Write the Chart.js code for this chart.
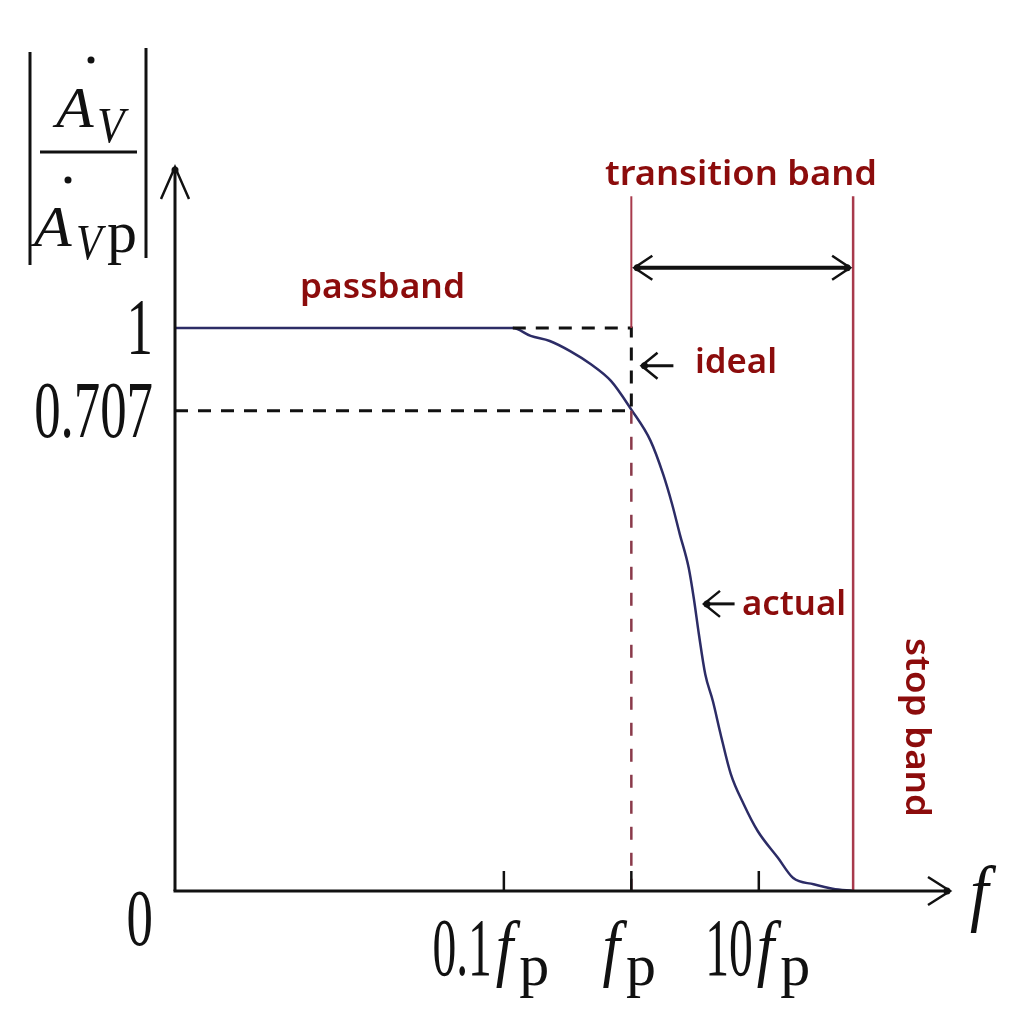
<!DOCTYPE html>
<html>
<head>
<meta charset="utf-8">
<title>Low-pass filter response</title>
<script src="https://cdn.jsdelivr.net/npm/chart.js@4.4.0/dist/chart.umd.min.js"></script>
<style>
  html, body { margin: 0; padding: 0; background: #fff; }
  #wrap { width: 1024px; height: 1024px; }
</style>
</head>
<body>
<div id="wrap"><canvas id="filterChart" width="1024" height="1024"></canvas></div>
<script>
// x = decades relative to fp (log10(f / fp)), y = |Av / Avp| as drawn in the sketch
const curveX = [-3.58, -0.93, -0.79, -0.64, -0.48, -0.32, -0.16, 0.0, 0.15, 0.25, 0.32, 0.38, 0.45, 0.49,
  0.53, 0.58, 0.64, 0.70, 0.78, 0.88, 0.99, 1.15, 1.27, 1.43, 1.58, 1.74];
const curveY = [1.0, 1.0, 0.986, 0.977, 0.959, 0.936, 0.906, 0.855, 0.80, 0.74, 0.687, 0.634, 0.574, 0.52,
  0.456, 0.385, 0.337, 0.279, 0.208, 0.155, 0.107, 0.059, 0.023, 0.012, 0.004, 0.0];

const xTickValues = [-1, 0, 1];
const xTickLabels = [
  [{ t: '0.1' }, { t: 'f', it: true }, { t: 'p', sub: true }],
  [{ t: 'f', it: true }, { t: 'p', sub: true }],
  [{ t: '10' }, { t: 'f', it: true }, { t: 'p', sub: true }]
];
const yTickValues = [0, 0.853, 1];
const yTickLabels = ['0', '0.707', '1'];

const xMin = -3.58, xMax = 2.5;
const yMin = 0, yMax = 1.286;
const cutoffX = 0;          // fp
const stopX = 1.74;         // start of stop band
const idealStartX = -0.93;  // where the ideal (dashed) line leaves the curve
const halfPowerY = 0.853;   // drawn height of the 0.707 level
const bandTopY = 1.234;     // top of the red band lines

const RED_TEXT = '#8c0c0c';
const RED_LINE = '#a83a4c';
const CURVE = '#2c2c66';
const SERIF = '"Liberation Serif", "DejaVu Serif", serif';
const SANS = '"Noto Sans", "Open Sans", sans-serif';

function pts(xs, ys) {
  return xs.map((x, i) => ({ x: x, y: ys[i] }));
}

// draw text squeezed/stretched horizontally to a target width
function fitText(ctx, text, x, y, width) {
  const w = ctx.measureText(text).width;
  ctx.save();
  ctx.translate(x, y);
  ctx.scale(width / w, 1);
  ctx.fillText(text, 0, 0);
  ctx.restore();
}

// math-like labels: condensed upright digits, italic f, lowered p
function runStyle(r) {
  if (r.it) return { font: 'italic 74px ' + SERIF, sx: 0.85, dy: -3, adv: 6 };
  if (r.sub) return { font: '60px ' + SERIF, sx: 1, dy: 10, adv: 0 };
  return { font: '82px ' + SERIF, sx: 0.58, dy: 0, adv: 4 };
}
function drawRuns(ctx, runs, cx, baseline) {
  ctx.save();
  ctx.textBaseline = 'alphabetic';
  ctx.textAlign = 'left';
  let w = 0;
  runs.forEach(r => {
    const s = runStyle(r);
    ctx.font = s.font;
    w += ctx.measureText(r.t).width * s.sx + s.adv;
  });
  let x = cx - w / 2;
  runs.forEach(r => {
    const s = runStyle(r);
    ctx.font = s.font;
    ctx.save();
    ctx.translate(x, baseline + s.dy);
    ctx.scale(s.sx, 1);
    ctx.fillText(r.t, 0, 0);
    ctx.restore();
    x += ctx.measureText(r.t).width * s.sx + s.adv;
  });
  ctx.restore();
}

function line(ctx, x1, y1, x2, y2) {
  ctx.beginPath();
  ctx.moveTo(x1, y1);
  ctx.lineTo(x2, y2);
  ctx.stroke();
}
// open arrowhead with a small blob at the tip
function arrowHead(ctx, tx, ty, dx, dy, len, half) {
  const px = -dy, py = dx;
  ctx.beginPath();
  ctx.moveTo(tx - dx * len + px * half, ty - dy * len + py * half);
  ctx.lineTo(tx, ty);
  ctx.lineTo(tx - dx * len - px * half, ty - dy * len - py * half);
  ctx.stroke();
  ctx.beginPath();
  ctx.arc(tx - dx * 3, ty - dy * 3, 3.5, 0, Math.PI * 2);
  ctx.fill();
}

function glyph(ctx, font, text, x, y, sx) {
  ctx.font = font;
  ctx.save();
  ctx.translate(x, y);
  ctx.scale(sx, 1);
  ctx.fillText(text, 0, 0);
  ctx.restore();
}

const sketchPlugin = {
  id: 'sketch',
  afterDatasetsDraw(chart) {
    const ctx = chart.ctx;
    const xs = chart.scales.x, ys = chart.scales.y;
    const area = chart.chartArea;
    const X = v => xs.getPixelForValue(v);
    const Y = v => ys.getPixelForValue(v);
    const x0 = X(xMin), y0 = Y(0);

    ctx.save();
    ctx.strokeStyle = '#111';
    ctx.fillStyle = '#111';
    ctx.lineCap = 'butt';

    // axes with arrows
    ctx.lineWidth = 3;
    line(ctx, x0, y0, x0, area.top + 2);
    line(ctx, x0 - 1.5, y0, area.right - 2, y0);
    ctx.lineWidth = 2.5;
    arrowHead(ctx, x0, area.top, 0, -1, 32, 14);
    arrowHead(ctx, area.right, y0, 1, 0, 22, 14);

    // x tick marks (inside) and labels
    ctx.lineWidth = 2.5;
    xTickValues.forEach((v, i) => {
      const px = X(v);
      line(ctx, px, y0, px, y0 - 20);
    });
    drawRuns(ctx, xTickLabels[0], X(-1) - 13, y0 + 84);
    drawRuns(ctx, xTickLabels[1], X(0) - 2, y0 + 84);
    drawRuns(ctx, xTickLabels[2], X(1) - 1, y0 + 84);
    // "f" axis label
    glyph(ctx, 'italic 74px ' + SERIF, 'f', area.right + 20, y0 + 26, 0.9);

    // y tick labels
    ctx.font = '80px ' + SERIF;
    ctx.textBaseline = 'middle';
    yTickValues.forEach((v, i) => {
      const py = v === 0 ? y0 + 33 : Y(v) + 5;
      const w = ctx.measureText(yTickLabels[i]).width * 0.66;
      ctx.save();
      ctx.translate(153 - w, py);
      ctx.scale(0.66, 1);
      ctx.fillText(yTickLabels[i], 0, 0);
      ctx.restore();
    });

    // |Av / Avp| label
    ctx.lineWidth = 3;
    line(ctx, 30, 52, 30, 265);
    line(ctx, 146, 48, 146, 258);
    line(ctx, 40, 152, 137, 152);
    ctx.textBaseline = 'alphabetic';
    const it = 'italic 56px ' + SERIF;
    const itV = 'italic 50px ' + SERIF;
    glyph(ctx, it, 'A', 56, 127, 1.1);
    glyph(ctx, itV, 'V', 97, 142, 0.9);
    glyph(ctx, it, 'A', 34, 246, 1.1);
    glyph(ctx, itV, 'V', 76, 259, 0.85);
    glyph(ctx, '60px ' + SERIF, 'p', 107, 252, 1.0);
    ctx.beginPath(); ctx.arc(91, 60, 3.5, 0, Math.PI * 2); ctx.fill();
    ctx.beginPath(); ctx.arc(68, 180, 3.5, 0, Math.PI * 2); ctx.fill();

    // transition band double arrow
    const ay = Y(1.107);
    ctx.lineWidth = 4;
    line(ctx, X(cutoffX) + 4, ay, X(stopX) - 4, ay);
    ctx.lineWidth = 2.5;
    arrowHead(ctx, X(cutoffX) + 3, ay, -1, 0, 18, 12);
    arrowHead(ctx, X(stopX) - 3, ay, 1, 0, 18, 12);

    // pointer arrows for "ideal" and "actual"
    ctx.lineWidth = 3;
    line(ctx, X(0.08), Y(0.933), X(0.33), Y(0.933));
    ctx.lineWidth = 2.5;
    arrowHead(ctx, X(0.08), Y(0.933), -1, 0, 16, 13);
    ctx.lineWidth = 3;
    line(ctx, X(0.57), Y(0.51), X(0.81), Y(0.51));
    ctx.lineWidth = 2.5;
    arrowHead(ctx, X(0.57), Y(0.51), -1, 0, 16, 13);

    // red annotations
    ctx.fillStyle = RED_TEXT;
    ctx.textAlign = 'left';
    ctx.textBaseline = 'alphabetic';
    ctx.font = '600 34px ' + SANS;
    fitText(ctx, 'transition band', 605, 185, 272);
    fitText(ctx, 'passband', 300, 298, 165);
    fitText(ctx, 'ideal', 695, 373, 82);
    fitText(ctx, 'actual', 742, 615, 104);
    ctx.save();
    ctx.translate(906, 638);
    ctx.rotate(Math.PI / 2);
    fitText(ctx, 'stop band', 0, 0, 179);
    ctx.restore();

    ctx.restore();
  }
};

const ctx = document.getElementById('filterChart');

new Chart(ctx, {
  type: 'scatter',
  data: {
    datasets: [
      {
        label: 'fp upper',
        data: [{ x: cutoffX, y: 1 }, { x: cutoffX, y: bandTopY }],
        showLine: true, borderColor: RED_LINE, borderWidth: 2, pointRadius: 0
      },
      {
        label: 'fp lower',
        data: [{ x: cutoffX, y: halfPowerY }, { x: cutoffX, y: 0 }],
        showLine: true, borderColor: '#8a3a4a', borderWidth: 2.5, borderDash: [13, 13], pointRadius: 0
      },
      {
        label: 'stop band edge',
        data: [{ x: stopX, y: 0 }, { x: stopX, y: bandTopY }],
        showLine: true, borderColor: RED_LINE, borderWidth: 2.5, pointRadius: 0
      },
      {
        label: 'half power',
        data: [{ x: xMin, y: halfPowerY }, { x: cutoffX, y: halfPowerY }],
        showLine: true, borderColor: '#111', borderWidth: 3, borderDash: [13, 10], pointRadius: 0
      },
      {
        label: 'ideal',
        data: [{ x: idealStartX, y: 1 }, { x: cutoffX, y: 1 }, { x: cutoffX, y: halfPowerY }],
        showLine: true, borderColor: '#111', borderWidth: 3, borderDash: [13, 10], pointRadius: 0
      },
      {
        label: 'actual',
        data: pts(curveX, curveY),
        showLine: true, borderColor: CURVE, borderWidth: 2.5, pointRadius: 0,
        cubicInterpolationMode: 'monotone'
      }
    ]
  },
  options: {
    responsive: false,
    animation: false,
    devicePixelRatio: 1,
    layout: { padding: { left: 175, right: 74, top: 167, bottom: 133 } },
    plugins: { legend: { display: false }, tooltip: { enabled: false } },
    scales: {
      x: { type: 'linear', display: false, min: xMin, max: xMax },
      y: { type: 'linear', display: false, min: yMin, max: yMax }
    },
    elements: { line: { borderCapStyle: 'butt' } }
  },
  plugins: [sketchPlugin]
});
</script>
</body>
</html>
